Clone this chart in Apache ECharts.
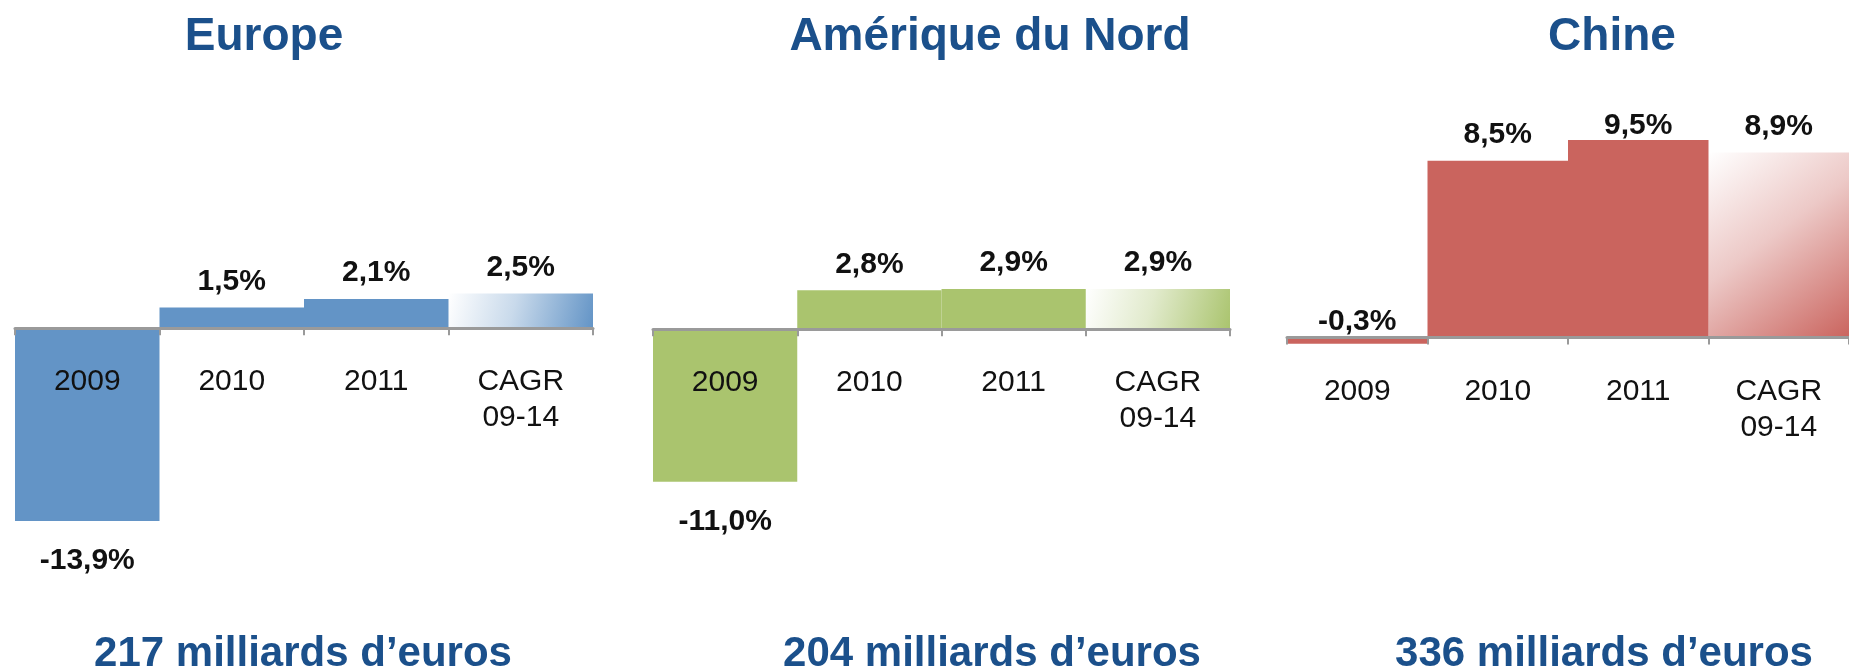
<!DOCTYPE html>
<html>
<head>
<meta charset="utf-8">
<script src="https://cdn.jsdelivr.net/npm/echarts@6/dist/echarts.min.js"></script>
<style>
html,body{margin:0;padding:0;background:#fff;}
#chart{width:1849px;height:668px;}
</style>
</head>
<body>
<div id="chart"></div>
<script>
// ---- data ----
const categories = ['2009', '2010', '2011', 'CAGR\n09-14'];
const europeValues = [-13.9, 1.5, 2.1, 2.5];
const northAmericaValues = [-11.0, 2.8, 2.9, 2.9];
const chinaValues = [-0.3, 8.5, 9.5, 8.9];
const panelTitles = ['Europe', 'Amérique du Nord', 'Chine'];
const panelTotals = ['217 milliards d\u2019euros', '204 milliards d\u2019euros', '336 milliards d\u2019euros'];

// ---- styles / layout ----
const FONT = '"Liberation Sans", Arial, Helvetica, sans-serif';
const TITLE_COLOR = '#1b508b';
const panels = [
  { values: europeValues, color: '#6394c6', rgb: '99,148,198', left: 15, width: 578, top: 245, height: 305, min: -16, max: 6, titleX: 264, totalX: 303 },
  { values: northAmericaValues, color: '#aac46e', rgb: '170,196,110', left: 653, width: 577, top: 246, height: 305, min: -16, max: 6, titleX: 990, totalX: 992 },
  { values: chinaValues, color: '#ca645e', rgb: '202,100,94', left: 1287, width: 580, top: 88, height: 291.2, min: -2, max: 12, titleX: 1612, totalX: 1604 }
];
// label tweaks per panel/index (distance from bar end)
const labelTweaks = { '2-0': { position: 'top', distance: 1 }, '2-2': { distance: -1 } };

function fmt(v) { return v.toFixed(1).replace('.', ',') + '%'; }

const grids = [], xAxes = [], yAxes = [], series = [], graphics = [];
panels.forEach((p, i) => {
  grids.push({ left: p.left, width: p.width, top: p.top, height: p.height, containLabel: false });
  xAxes.push({
    type: 'category', gridIndex: i, data: categories, z: 10,
    axisLine: { show: true, onZero: true, lineStyle: { color: '#9a9a9a', width: 3 } },
    axisTick: { show: true, length: 7, lineStyle: { color: '#9a9a9a', width: 2 } },
    axisLabel: { show: false },
    splitLine: { show: false }
  });
  yAxes.push({ type: 'value', gridIndex: i, min: p.min, max: p.max, show: false, splitLine: { show: false } });
  const data = p.values.map((v, j) => {
    const tweak = labelTweaks[i + '-' + j] || {};
    const item = {
      value: v,
      label: {
        position: tweak.position || (v < 0 ? 'bottom' : 'top'),
        distance: tweak.distance !== undefined ? tweak.distance : (v < 0 ? 25 : 11)
      }
    };
    if (j === categories.length - 1) {
      item.itemStyle = {
        color: new echarts.graphic.LinearGradient(0, 0, 1, 1, [
          { offset: 0, color: 'rgba(' + p.rgb + ',0)' },
          { offset: 0.45, color: 'rgba(' + p.rgb + ',0.35)' },
          { offset: 1, color: 'rgba(' + p.rgb + ',1)' }
        ])
      };
    }
    return item;
  });
  series.push({
    type: 'bar', xAxisIndex: i, yAxisIndex: i, data: data,
    barCategoryGap: 0, barGap: 0, z: 2,
    itemStyle: { color: p.color },
    label: {
      show: true, fontSize: 30, fontWeight: 'bold', color: '#111', fontFamily: FONT,
      formatter: (prm) => fmt(prm.value)
    },
    emphasis: { disabled: true }, animation: false
  });
  // category labels anchored at the zero line
  series.push({
    type: 'scatter', xAxisIndex: i, yAxisIndex: i, z: 12,
    data: categories.map((c) => [c, 0]),
    symbolSize: 0, silent: true,
    itemStyle: { opacity: 1 },
    label: {
      show: true, position: 'bottom', distance: 36, opacity: 1,
      fontSize: 30, lineHeight: 36, color: '#111111', fontFamily: FONT, align: 'center',
      formatter: (prm) => prm.value[0]
    },
    emphasis: { disabled: true }, animation: false
  });
  graphics.push({
    type: 'text', x: p.titleX, y: 37,
    style: { text: panelTitles[i], font: 'bold 46px ' + FONT, fill: TITLE_COLOR, textAlign: 'center', textVerticalAlign: 'middle' }
  });
  graphics.push({
    type: 'text', x: p.totalX, y: 654,
    style: { text: panelTotals[i], font: 'bold 42px ' + FONT, fill: TITLE_COLOR, textAlign: 'center', textVerticalAlign: 'middle' }
  });
});

const chart = echarts.init(document.getElementById('chart'), null, { renderer: 'canvas' });
chart.setOption({
  backgroundColor: '#ffffff',
  animation: false,
  grid: grids, xAxis: xAxes, yAxis: yAxes, series: series,
  graphic: graphics
});
</script>
</body>
</html>
